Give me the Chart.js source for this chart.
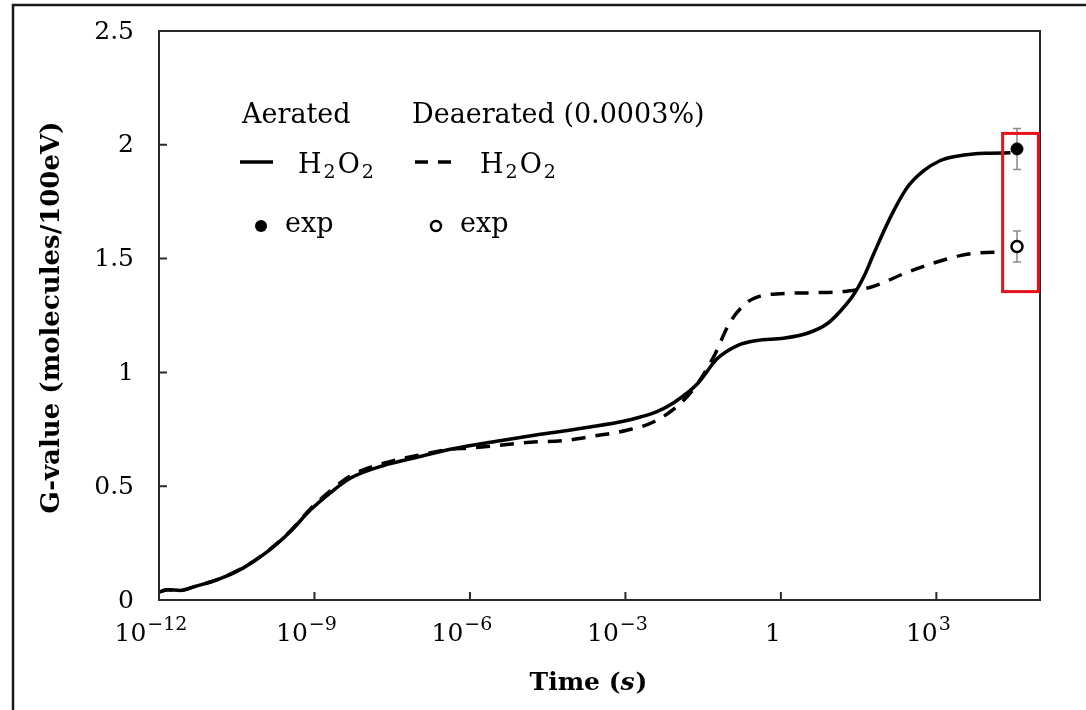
<!DOCTYPE html>
<html lang="en">
<head>
<meta charset="UTF-8" />
<title>G-value of H2O2 vs time</title>
<script src="https://cdn.jsdelivr.net/npm/chart.js"></script>
<style>
  html, body { margin: 0; padding: 0; background: #fff; }
  #wrap { width: 1086px; height: 710px; }
</style>
</head>
<body>
<div id="wrap"><canvas id="gChart" width="1086" height="710"></canvas></div>
<script>
  // simulated G(H2O2), time given as log10(t / s)
  const aeratedLogT = [-12.00, -11.83, -11.59, -11.30, -10.88, -10.38, -9.92, -9.47, -9.08, -8.70, -8.31, -7.68, -7.02, -6.38, -5.42, -4.64, -3.68, -3.04, -2.71, -2.39, -2.06, -1.61, -1.23, -0.84, -0.46, 0.05, 0.51, 0.90, 1.15, 1.40, 1.60, 1.79, 2.11, 2.43, 2.75, 3.07, 3.39, 3.71, 4.04, 4.43];
  const aeratedG    = [0.035, 0.045, 0.042, 0.060, 0.088, 0.140, 0.210, 0.300, 0.395, 0.470, 0.535, 0.590, 0.627, 0.662, 0.700, 0.728, 0.760, 0.785, 0.804, 0.828, 0.868, 0.950, 1.060, 1.118, 1.140, 1.150, 1.172, 1.215, 1.270, 1.340, 1.420, 1.520, 1.680, 1.810, 1.885, 1.930, 1.950, 1.960, 1.963, 1.965];

  const deaeratedLogT = [-12.00, -11.83, -11.59, -11.30, -10.88, -10.38, -9.92, -9.47, -9.08, -8.70, -8.31, -7.68, -7.02, -6.38, -6.05, -5.42, -4.84, -4.20, -3.62, -2.97, -2.46, -1.94, -1.61, -1.30, -0.98, -0.65, -0.40, -0.01, 0.63, 1.28, 1.73, 2.44, 2.94, 3.46, 3.85, 4.24];
  const deaeratedG    = [0.035, 0.045, 0.042, 0.060, 0.090, 0.142, 0.212, 0.302, 0.400, 0.478, 0.545, 0.600, 0.635, 0.662, 0.667, 0.680, 0.693, 0.700, 0.720, 0.746, 0.782, 0.863, 0.950, 1.067, 1.221, 1.308, 1.335, 1.346, 1.350, 1.357, 1.374, 1.440, 1.480, 1.513, 1.526, 1.528];

  // measured values (aerated, deaerated)
  const expTime = [36000, 36000];
  const expG    = [1.982, 1.553];
  const expErr  = [0.090, 0.068];

  // axis ticks
  const xTickVals   = [1e-12, 1e-9, 1e-6, 1e-3, 1, 1e3];
  const xTickLabels = [['10', '\u221212'], ['10', '\u22129'], ['10', '\u22126'], ['10', '\u22123'], ['1', ''], ['10', '3']];
  const yTickVals   = [0, 0.5, 1, 1.5, 2, 2.5];
  const yTickLabels = ['0', '0.5', '1', '1.5', '2', '2.5'];

  // highlight box around the measured points
  const boxTime = [1.9e4, 9.3e4];
  const boxG    = [1.355, 2.05];

  const SERIF = "'DejaVu Serif', serif";

  function toPoints(logT, g) {
    return logT.map((e, i) => ({ x: Math.pow(10, e), y: g[i] }));
  }

  // writes base + superscript, centred on cx
  function drawPow(ctx, base, sup, cx, baseline) {
    ctx.font = '25px ' + SERIF;
    const wb = ctx.measureText(base).width;
    ctx.font = '19px ' + SERIF;
    const ws = sup ? ctx.measureText(sup).width + 1 : 0;
    let x = cx - (wb + ws) / 2;
    ctx.textAlign = 'left';
    ctx.textBaseline = 'alphabetic';
    ctx.font = '25px ' + SERIF;
    ctx.fillText(base, x, baseline);
    if (sup) {
      ctx.font = '19px ' + SERIF;
      ctx.fillText(sup, x + wb + 1, baseline - 11);
    }
  }

  // H2O2 with subscripts
  function drawH2O2(ctx, x, baseline) {
    const parts = [['H', false], ['2', true], ['O', false], ['2', true]];
    ctx.textAlign = 'left';
    ctx.textBaseline = 'alphabetic';
    parts.forEach(([t, sub]) => {
      ctx.font = (sub ? '19px ' : '27px ') + SERIF;
      ctx.fillText(t, x + (sub ? 1 : 0), baseline + (sub ? 5 : 0));
      x += ctx.measureText(t).width + (sub ? 3 : 1);
    });
  }

  const decorPlugin = {
    id: 'decor',
    beforeDraw(chart) {
      const ctx = chart.ctx;
      ctx.save();
      ctx.fillStyle = '#fff';
      ctx.fillRect(0, 0, chart.width, chart.height);
      // outer frame
      ctx.strokeStyle = '#1a1a1a';
      ctx.lineWidth = 2.5;
      ctx.beginPath();
      ctx.moveTo(13, chart.height);
      ctx.lineTo(13, 5);
      ctx.lineTo(chart.width, 5);
      ctx.stroke();
      ctx.restore();
    },
    beforeDatasetsDraw(chart) {
      // error bars behind the markers
      const ctx = chart.ctx;
      const xs = chart.scales.x, ys = chart.scales.y;
      ctx.save();
      ctx.strokeStyle = '#8a8a8a';
      ctx.lineWidth = 1.5;
      expTime.forEach((t, i) => {
        const px = xs.getPixelForValue(t);
        const top = ys.getPixelForValue(expG[i] + expErr[i]);
        const bot = ys.getPixelForValue(expG[i] - expErr[i]);
        ctx.beginPath();
        ctx.moveTo(px, top); ctx.lineTo(px, bot);
        ctx.moveTo(px - 4, top); ctx.lineTo(px + 4, top);
        ctx.moveTo(px - 4, bot); ctx.lineTo(px + 4, bot);
        ctx.stroke();
      });
      ctx.restore();
    },
    afterDraw(chart) {
      const ctx = chart.ctx;
      const a = chart.chartArea;
      const xs = chart.scales.x, ys = chart.scales.y;
      ctx.save();

      // plot box
      ctx.strokeStyle = '#2a2a2a';
      ctx.lineWidth = 2;
      ctx.strokeRect(a.left, a.top, a.right - a.left, a.bottom - a.top);

      // inward ticks
      ctx.beginPath();
      yTickVals.forEach(v => {
        if (v === ys.min || v === ys.max) return;
        const py = ys.getPixelForValue(v);
        ctx.moveTo(a.left, py); ctx.lineTo(a.left + 8, py);
      });
      xTickVals.forEach(v => {
        if (v === xs.min) return;
        const px = xs.getPixelForValue(v);
        ctx.moveTo(px, a.bottom); ctx.lineTo(px, a.bottom - 8);
      });
      ctx.stroke();

      // tick labels
      ctx.fillStyle = '#000';
      ctx.font = '25px ' + SERIF;
      ctx.textAlign = 'right';
      ctx.textBaseline = 'middle';
      yTickVals.forEach((v, i) => {
        ctx.fillText(yTickLabels[i], a.left - 25, ys.getPixelForValue(v) + 1);
      });
      xTickVals.forEach((v, i) => {
        const [b, s] = xTickLabels[i];
        drawPow(ctx, b, s, xs.getPixelForValue(v) - 8, a.bottom + 41);
      });

      // axis titles
      ctx.font = 'bold 26px ' + SERIF;
      ctx.textAlign = 'center';
      ctx.textBaseline = 'middle';
      ctx.save();
      ctx.translate(52, (a.top + a.bottom) / 2 + 2);
      ctx.rotate(-Math.PI / 2);
      ctx.fillText('G-value (molecules/100eV)', 0, 0);
      ctx.restore();

      const t1 = 'Time (', t2 = 's', t3 = ')';
      ctx.font = 'bold 25px ' + SERIF;
      const w1 = ctx.measureText(t1).width, w3 = ctx.measureText(t3).width;
      ctx.font = 'italic bold 25px ' + SERIF;
      const w2 = ctx.measureText(t2).width;
      let tx = 588 - (w1 + w2 + w3) / 2;
      ctx.textAlign = 'left';
      ctx.textBaseline = 'alphabetic';
      ctx.font = 'bold 25px ' + SERIF;
      ctx.fillText(t1, tx, 690);
      ctx.font = 'italic bold 25px ' + SERIF;
      ctx.fillText(t2, tx + w1, 690);
      ctx.font = 'bold 25px ' + SERIF;
      ctx.fillText(t3, tx + w1 + w2 + 1, 690);

      // legend
      ctx.font = '27px ' + SERIF;
      ctx.fillText('Aerated', 242, 123);
      ctx.fillText('Deaerated (0.0003%)', 412, 123);
      ctx.strokeStyle = '#000';
      ctx.lineWidth = 3.5;
      ctx.beginPath();
      ctx.moveTo(240, 162); ctx.lineTo(273, 162);
      ctx.moveTo(415, 162); ctx.lineTo(428, 162);
      ctx.moveTo(438, 162); ctx.lineTo(451, 162);
      ctx.stroke();
      drawH2O2(ctx, 298, 173);
      drawH2O2(ctx, 480, 173);
      ctx.fillStyle = '#000';
      ctx.beginPath();
      ctx.arc(261, 226, 6, 0, Math.PI * 2);
      ctx.fill();
      ctx.lineWidth = 2.5;
      ctx.beginPath();
      ctx.arc(436, 226, 5, 0, Math.PI * 2);
      ctx.stroke();
      ctx.font = '27px ' + SERIF;
      ctx.fillText('exp', 285, 232);
      ctx.fillText('exp', 460, 232);

      // highlight box
      ctx.strokeStyle = '#e8121c';
      ctx.lineWidth = 3;
      const bx0 = xs.getPixelForValue(boxTime[0]), bx1 = xs.getPixelForValue(boxTime[1]);
      const by0 = ys.getPixelForValue(boxG[1]), by1 = ys.getPixelForValue(boxG[0]);
      ctx.strokeRect(bx0, by0, bx1 - bx0, by1 - by0);

      ctx.restore();
    }
  };

  new Chart(document.getElementById('gChart'), {
    type: 'line',
    data: {
      datasets: [
        {
          label: 'Aerated H2O2',
          data: toPoints(aeratedLogT, aeratedG),
          borderColor: '#000',
          borderWidth: 3.5,
          pointRadius: 0,
          cubicInterpolationMode: 'monotone',
          fill: false
        },
        {
          label: 'Deaerated H2O2',
          data: toPoints(deaeratedLogT, deaeratedG),
          borderColor: '#000',
          borderWidth: 3.5,
          borderDash: [14, 10],
          pointRadius: 0,
          cubicInterpolationMode: 'monotone',
          fill: false
        },
        {
          label: 'exp (aerated)',
          data: [{ x: expTime[0], y: expG[0] }],
          showLine: false,
          pointRadius: 6,
          pointBackgroundColor: '#000',
          pointBorderColor: '#000',
          pointBorderWidth: 1
        },
        {
          label: 'exp (deaerated)',
          data: [{ x: expTime[1], y: expG[1] }],
          showLine: false,
          pointRadius: 5.5,
          pointBackgroundColor: '#fff',
          pointBorderColor: '#000',
          pointBorderWidth: 2.5
        }
      ]
    },
    options: {
      responsive: false,
      animation: false,
      devicePixelRatio: 1,
      layout: { padding: { top: 31, right: 46, left: 0, bottom: 0 } },
      plugins: {
        legend: { display: false },
        tooltip: { enabled: false }
      },
      scales: {
        x: {
          type: 'logarithmic',
          min: 1e-12,
          max: 1e5,
          grid: { display: false },
          border: { display: false },
          ticks: { display: false },
          afterFit(scale) { scale.height = 110; }
        },
        y: {
          min: 0,
          max: 2.5,
          grid: { display: false },
          border: { display: false },
          ticks: { display: false, stepSize: 0.5 },
          afterFit(scale) { scale.width = 159; }
        }
      }
    },
    plugins: [decorPlugin]
  });
</script>
</body>
</html>
